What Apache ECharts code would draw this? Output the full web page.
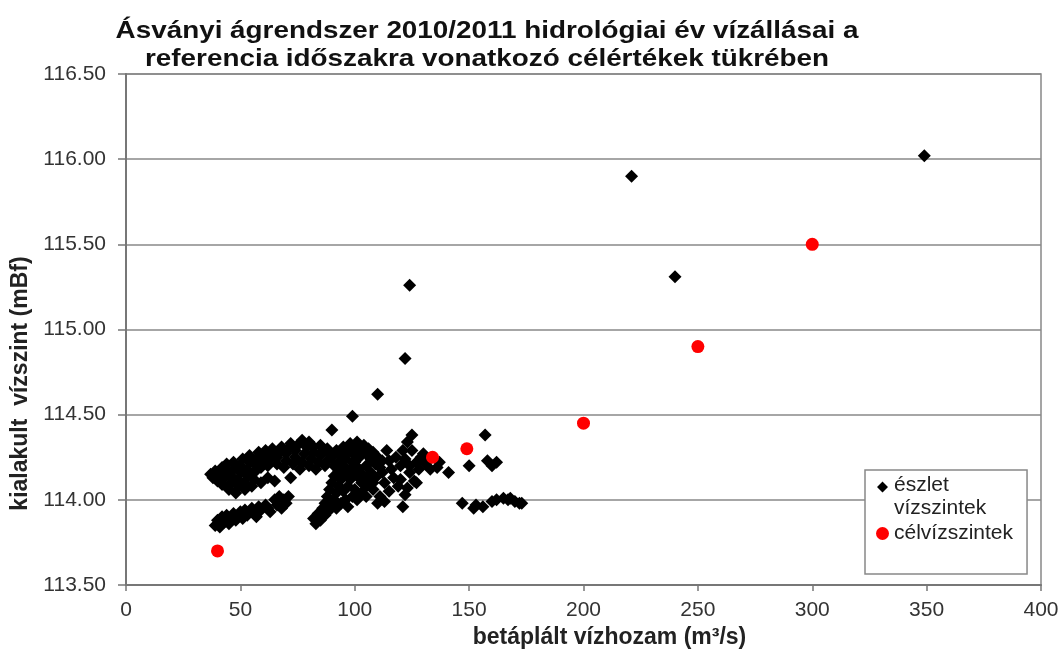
<!DOCTYPE html>
<html>
<head>
<meta charset="utf-8">
<script src="https://cdn.jsdelivr.net/npm/echarts@6/dist/echarts.min.js"></script>
<style>
  html, body { margin: 0; padding: 0; background: #fff; }
  #chart { width: 1064px; height: 650px; }
</style>
</head>
<body>
<div id="chart"></div>
<script>
// észlelt vízszintek [vízhozam m3/s, vízszint mBf]
const eszlet = [
  // felső sáv, bal
  [37,114.15],[38,114.13],[39,114.17],[40,114.11],[41,114.15],[42,114.19],[42,114.09],[43,114.13],
  [44,114.17],[44,114.21],[45,114.06],[46,114.10],[46,114.14],[47,114.18],[47,114.22],[48,114.04],
  [49,114.08],[49,114.12],[50,114.16],[50,114.20],[51,114.24],[52,114.06],[52,114.10],[53,114.14],
  [53,114.18],[54,114.22],[54,114.26],[55,114.08],[56,114.12],[56,114.16],[57,114.20],[57,114.24],
  [58,114.28],[59,114.10],[59,114.19],[60,114.22],[60,114.26],[61,114.29],[62,114.13],[62,114.20],
  [63,114.24],[64,114.27],[64,114.30],[65,114.11],[66,114.21],[66,114.25],[67,114.28],[68,114.31],
  [69,114.19],[70,114.23],[70,114.27],[71,114.30],[72,114.13],[72,114.33],[73,114.21],[74,114.25],
  [74,114.29],[75,114.32],[76,114.18],[77,114.22],[77,114.35],[78,114.27],[79,114.31],[80,114.20],
  [80,114.34],[81,114.24],[82,114.28],[82,114.31],[83,114.18],[84,114.22],[85,114.26],[85,114.32],
  [86,114.29],[87,114.20],[88,114.23],[88,114.30],[89,114.27],
  // felső sáv, közép
  [90,114.25],[91,114.20],[92,114.29],[93,114.22],[94,114.26],[95,114.31],[96,114.24],[97,114.28],
  [98,114.33],[99,114.22],[100,114.26],[100,114.30],[101,114.34],[102,114.25],[103,114.29],[104,114.32],
  [105,114.20],[105,114.27],[106,114.30],[107,114.24],[108,114.28],[109,114.21],[110,114.25],[111,114.19],
  [112,114.23],
  // középső alsó ág
  [82,113.89],[83,113.86],[84,113.92],[85,113.88],[86,113.95],[87,113.91],[87,113.98],[88,114.02],
  [89,113.94],[89,114.06],[90,113.97],[90,114.10],[91,114.00],[91,114.14],[92,113.95],[92,114.04],
  [93,114.08],[93,114.17],[94,113.98],[94,114.12],[95,114.05],[95,114.20],[96,114.00],[96,114.15],
  [97,113.96],[97,114.08],[98,114.12],[98,114.18],[99,114.02],[99,114.15],[100,114.06],[100,114.22],
  [101,114.00],[101,114.14],[102,114.18],[103,114.04],[103,114.10],[104,114.14],[105,114.02],[105,114.08],
  [106,114.12],[107,114.16],[108,114.06],[108,114.10],[109,114.13],
  // jobb oldali csoport
  [110,113.98],[111,114.02],[113,113.99],[112,114.16],[113,114.10],[114,114.29],[115,114.23],[115,114.05],
  [116,114.18],[117,114.13],[118,114.25],[119,114.08],[120,114.12],[120,114.20],[121,114.29],[121,113.96],
  [122,114.03],[122,114.24],[123,114.34],[123,114.07],[124,114.16],[124,114.20],[125,114.38],[125,114.29],
  [126,114.11],[127,114.10],[127,114.22],[128,114.18],[129,114.25],[130,114.27],[131,114.21],[133,114.18],
  [136,114.19],[137,114.22],[141,114.16],
  // alsó sáv, bal
  [39,113.85],[40,113.88],[41,113.84],[42,113.90],[43,113.87],[44,113.91],[45,113.86],[46,113.89],
  [47,113.92],[48,113.88],[49,113.90],[50,113.93],[51,113.89],[52,113.94],[53,113.91],[55,113.95],
  [56,113.93],[57,113.90],[58,113.96],[59,113.94],[61,113.97],[62,113.95],[63,113.93],[65,114.00],
  [66,113.97],[67,114.02],[68,113.95],[69,114.00],[70,113.98],[71,114.02],
  // 145 felett
  [147,113.98],[150,114.20],[152,113.95],[153,113.97],[156,113.96],[157,114.38],[158,114.23],[160,113.99],
  [160,114.20],[162,114.22],[162,114.00],[165,114.01],[167,114.00],[168,114.01],[170,113.99],[172,113.98],
  [173,113.98],
  // kiugró értékek
  [90,114.41],[99,114.49],[110,114.62],[122,114.83],[124,115.26],[221,115.90],[240,115.31],[349,116.02]
];

// célvízszintek
const celQ = [40, 134, 149, 200, 250, 300];
const celH = [113.70, 114.25, 114.30, 114.45, 114.90, 115.50];

const titleLines = [
  'Ásványi ágrendszer 2010/2011 hidrológiai év vízállásai a',
  'referencia időszakra vonatkozó célértékek tükrében'
];

const xTicks = { min: 0, max: 400, interval: 50 };
const yTicks = { min: 113.5, max: 116.5, interval: 0.5 };

const chart = echarts.init(document.getElementById('chart'));
const font = "'Liberation Sans', Arial, sans-serif";

// a rombusz a jelmagyarázatban az első sorhoz igazodik
const diamondIcon = 'path://M0,0 L0.01,0 M6.5,0.5 L12,6 L6.5,11.5 L1,6 Z M13,32 L12.99,32';

chart.setOption({
  animation: false,
  backgroundColor: '#fff',
  textStyle: { fontFamily: font },
  graphic: titleLines.map((t, i) => ({
    type: 'text',
    x: 487,
    y: 31 + i * 28,
    scaleX: 1.16,
    style: {
      text: t,
      fontSize: 24,
      fontWeight: 'bold',
      fontFamily: font,
      fill: '#111',
      align: 'center',
      verticalAlign: 'middle'
    }
  })),
  grid: {
    left: 126, right: 23, top: 74, bottom: 65,
    outerBoundsMode: 'none',
    containLabel: false,
    show: true, borderColor: '#888', borderWidth: 1.5, backgroundColor: 'transparent'
  },
  legend: {
    orient: 'vertical',
    left: 865, top: 470,
    padding: [4, 14, 29, 11],
    itemGap: 2,
    itemWidth: 13, itemHeight: 32,
    backgroundColor: '#fff',
    borderColor: '#888', borderWidth: 1.5,
    textStyle: { fontSize: 21, color: '#222', lineHeight: 23, fontFamily: font },
    data: [
      { name: 'észlet\nvízszintek', itemStyle: { color: '#000' }, icon: diamondIcon },
      { name: 'célvízszintek', itemStyle: { color: '#ff0000' }, icon: 'circle' }
    ]
  },
  xAxis: {
    type: 'value',
    min: xTicks.min, max: xTicks.max, interval: xTicks.interval,
    name: 'betáplált vízhozam (m³/s)',
    nameLocation: 'middle',
    nameGap: 37,
    nameTextStyle: { fontSize: 23, fontWeight: 'bold', color: '#222', fontFamily: font, padding: [0, 0, 0, 52] },
    axisLine: { show: true, lineStyle: { color: '#777', width: 2 } },
    axisTick: { show: true, length: 6, lineStyle: { color: '#777', width: 1.5 } },
    axisLabel: { fontSize: 21, color: '#333', margin: 15, fontFamily: font },
    splitLine: { show: false }
  },
  yAxis: {
    type: 'value',
    min: yTicks.min, max: yTicks.max, interval: yTicks.interval,
    name: 'kialakult  vízszint (mBf)',
    nameLocation: 'middle',
    nameGap: 92,
    nameTextStyle: { fontSize: 23, fontWeight: 'bold', color: '#222', fontFamily: font, padding: [0, 108, 0, 0] },
    axisLine: { show: true, lineStyle: { color: '#777', width: 2 } },
    axisTick: { show: true, length: 8, lineStyle: { color: '#777', width: 1.5 } },
    axisLabel: {
      fontSize: 21, color: '#333', margin: 20, fontFamily: font,
      formatter: v => v.toFixed(2)
    },
    splitLine: { show: true, lineStyle: { color: '#888', width: 1.5 } }
  },
  series: [
    {
      name: 'észlet\nvízszintek',
      type: 'scatter',
      symbol: 'diamond',
      symbolSize: 13,
      itemStyle: { color: '#000', opacity: 1 },
      data: eszlet,
      z: 2
    },
    {
      name: 'célvízszintek',
      type: 'scatter',
      symbol: 'circle',
      symbolSize: 13,
      itemStyle: { color: '#ff0000', opacity: 1 },
      data: celQ.map((q, i) => [q, celH[i]]),
      z: 3
    }
  ]
});
</script>
</body>
</html>
